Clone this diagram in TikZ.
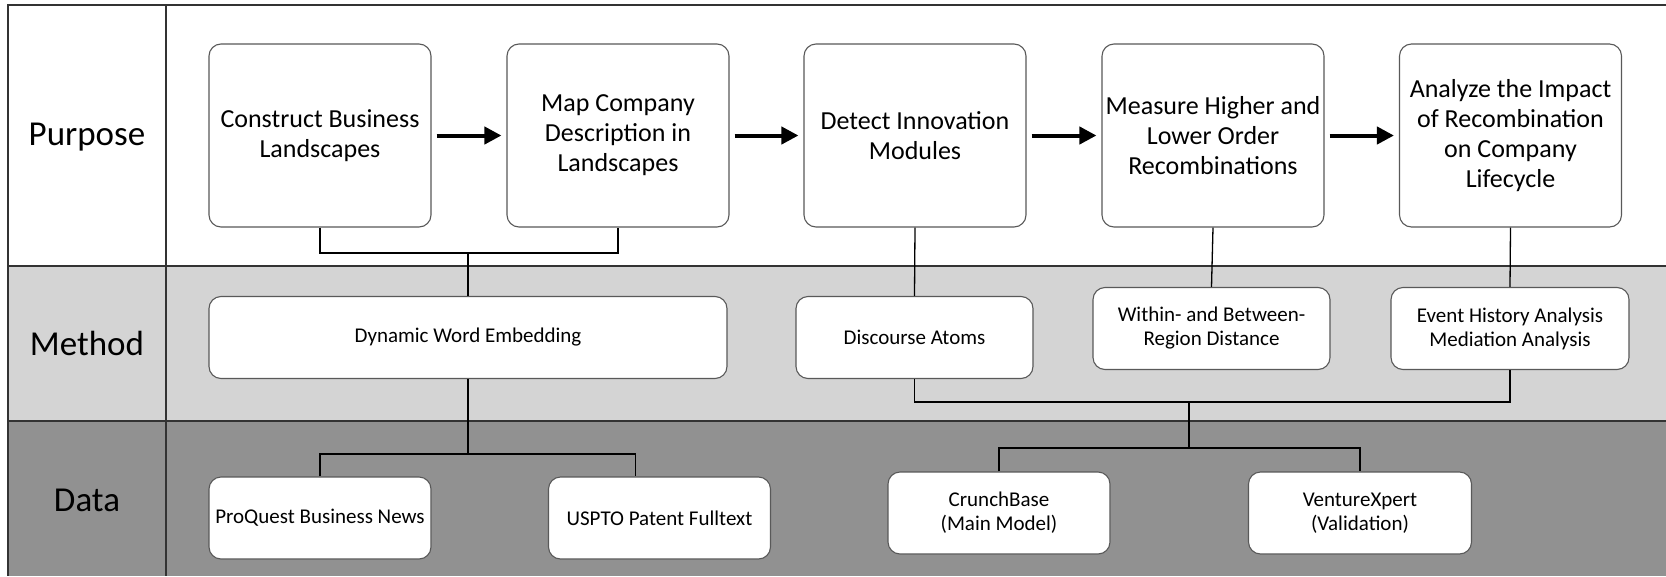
\documentclass[tikz,border=0pt]{standalone}
\usepackage{fontspec}
\setmainfont{Carlito}
\usetikzlibrary{arrows.meta,positioning,calc}

\begin{document}
\begin{tikzpicture}[x=1pt, y=-1pt,
            frame/.style={draw=black!80, line width=1.2pt},
            rowlabel/.style={font=\fontsize{35}{40}\selectfont},
            box/.style={draw=black!65, line width=1.1pt, fill=white, rounded corners=12pt,
                        align=center, inner sep=2pt},
            purposebox/.style={box, minimum width=222pt, minimum height=183pt,
                        font=\fontsize{26}{30}\selectfont},
            smallbox/.style={box, minimum height=82pt,
                        font=\fontsize{21}{24}\selectfont},
            flow/.style={draw=black, line width=4pt, -{Triangle[length=17pt,width=17pt]},
                        shorten <=5pt, shorten >=5pt},
            link/.style={draw=black, line width=1.3pt}]
        \useasboundingbox (0,0) rectangle (1666,576);
        \fill[white] (0,0) rectangle (1666,576);
        \fill[black!17] (8,266) rectangle (1666,421);
        \fill[black!43] (8,421) rectangle (1666,576);
        \draw[frame] (1666,5) -- (8,5) -- (8,576);
        \draw[frame] (8,266) -- (1666,266);
        \draw[frame] (8,421) -- (1666,421);
        \draw[frame] (166,5) -- (166,576);

        \node[rowlabel] (purpose) at (87,137) {Purpose};
        \node[rowlabel] (method) at (87,343) {Method};
        \node[rowlabel] (data) at (87,500) {Data};

        \node[purposebox] (construct) at (320,135.5) {Construct Business\\Landscapes};
        \node[purposebox] (mapdesc) at (618,135.5) {Map Company\\Description in\\Landscapes};
        \node[purposebox] (detect) at (915,135.5) {Detect Innovation\\Modules};
        \node[purposebox] (measure) at (1213,135.5) {Measure Higher and\\Lower Order\\Recombinations};
        \node[purposebox] (impact) at (1510.5,135.5) {Analyze the Impact\\of Recombination\\on Company\\Lifecycle};

        \node[smallbox, minimum width=518pt] (embed) at (468,337.5) {Dynamic Word Embedding};
        \node[smallbox, minimum width=237pt] (atoms) at (914.5,337.5) {Discourse Atoms};
        \node[smallbox, minimum width=237pt] (distance) at (1211.5,328.5) {Within- and Between-\\Region Distance};
        \node[smallbox, minimum width=238pt] (history) at (1510,328.5) {Event History Analysis\\Mediation Analysis};

        \node[smallbox, minimum width=222pt] (proquest) at (320,518) {ProQuest Business News};
        \node[smallbox, minimum width=222pt] (uspto) at (659.5,518) {USPTO Patent Fulltext};
        \node[smallbox, minimum width=222pt] (crunch) at (999,513) {CrunchBase\\(Main Model)};
        \node[smallbox, minimum width=223pt] (venture) at (1360,513) {VentureXpert\\(Validation)};

        \draw[flow] (construct) -- (mapdesc);
        \draw[flow] (mapdesc) -- (detect);
        \draw[flow] (detect) -- (measure);
        \draw[flow] (measure) -- (impact);

        \coordinate (landjoin) at (468,253);
        \coordinate (embedjoin) at (468,454);
        \coordinate (methodjoin) at (1189,402);
        \coordinate (datajoin) at (1189,448);
        \draw[link] (construct.south) |- (landjoin) -| (mapdesc.south);
        \draw[link] (landjoin) -- (embed.north);
        \draw[link] (detect.south) -- (atoms.north);
        \draw[link] (measure.south) -- (distance.north);
        \draw[link] (impact.south) -- (history.north);
        \draw[link] (embed.south) -- (embedjoin);
        \draw[link] (proquest.north) |- (embedjoin) -| ([xshift=-24pt]uspto.north);
        \draw[link] (atoms.south) |- (methodjoin) -| (history.south);
        \draw[link] (methodjoin) -- (datajoin);
        \draw[link] (crunch.north) |- (datajoin) -| (venture.north);
\end{tikzpicture}
\end{document}
